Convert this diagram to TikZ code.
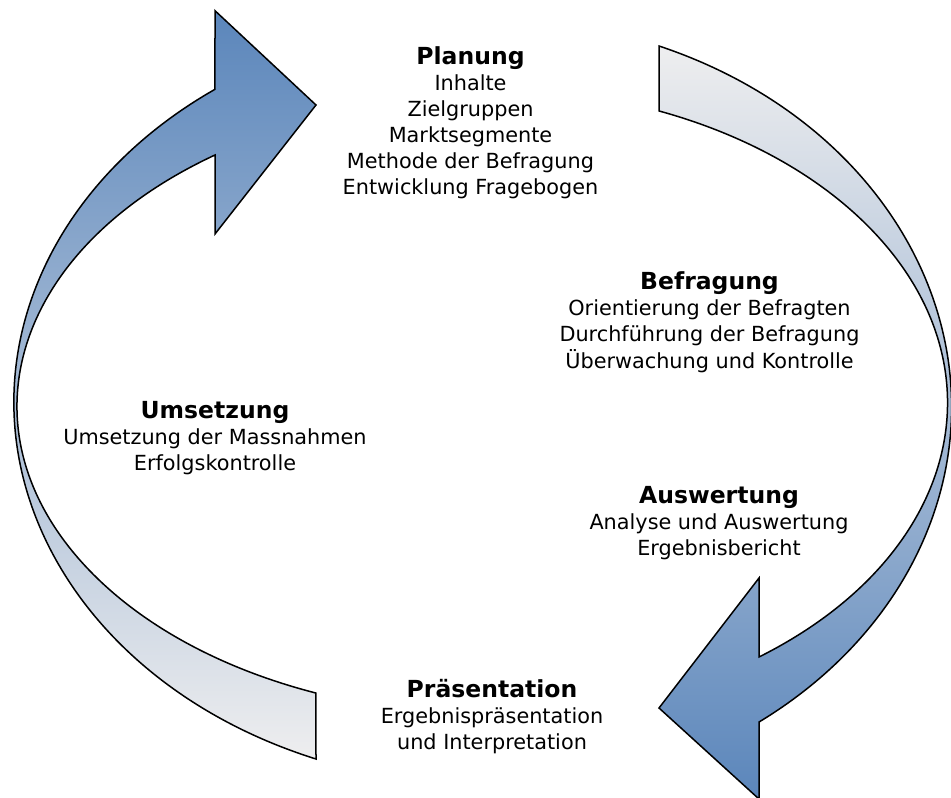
\documentclass[tikz,border=0pt]{standalone}
\usepackage{fontspec}
\setmainfont{DejaVu Sans}
\definecolor{arrblue}{RGB}{91,134,187}
\definecolor{arrlight}{RGB}{238,238,239}
\tikzset{
  cyclearrow/.style={draw=black, line width=1.5pt, line join=miter},
  phase/.style={anchor=base, inner sep=0pt, font=\fontsize{20.8}{26}\selectfont},
}
\newcommand{\phtitle}[1]{{\bfseries\fontsize{23.5}{26}\selectfont #1}}
\begin{document}
\begin{tikzpicture}[x=1pt,y=-1pt]
\useasboundingbox (0,0) rectangle (951,798);
% left arrow (Umsetzung -> Planung)
\path[cyclearrow, top color=arrblue, bottom color=arrlight]
  (316,759) arc[start angle=111.23, end angle=234.87, x radius=473.5, y radius=382.7]
  -- (215,10.7) -- (316,105) -- (215,234) -- (215,155)
  arc[start angle=234.61, end angle=111.38, x radius=470.5, y radius=308.1]
  -- cycle;
% right arrow (Planung -> Praesentation)
\path[cyclearrow, top color=arrlight, bottom color=arrblue]
  (659,46) arc[start angle=-68.31, end angle=54.19, x radius=464, y radius=388.5]
  -- (759,799) -- (659,708) -- (759,578) -- (759,657)
  arc[start angle=53.83, end angle=-68.11, x radius=460, y radius=314.7]
  -- cycle;
\node[phase] (plan) at (470.5,64.5) {\begin{tabular}[t]{@{}c@{}}\phtitle{Planung}\\ Inhalte\\ Zielgruppen\\ Marktsegmente\\ Methode der Befragung\\ Entwicklung Fragebogen\end{tabular}};
\node[phase] (befr) at (709.5,289.5) {\begin{tabular}[t]{@{}c@{}}\phtitle{Befragung}\\ Orientierung der Befragten\\ Durchführung der Befragung\\ Überwachung und Kontrolle\end{tabular}};
\node[phase] (umse) at (215,418) {\begin{tabular}[t]{@{}c@{}}\phtitle{Umsetzung}\\ Umsetzung der Massnahmen\\ Erfolgskontrolle\end{tabular}};
\node[phase] (ausw) at (719,503) {\begin{tabular}[t]{@{}c@{}}\phtitle{Auswertung}\\ Analyse und Auswertung\\ Ergebnisbericht\end{tabular}};
\node[phase] (praes) at (492,697) {\begin{tabular}[t]{@{}c@{}}\phtitle{Präsentation}\\ Ergebnispräsentation\\ und Interpretation\end{tabular}};
\end{tikzpicture}
\end{document}
